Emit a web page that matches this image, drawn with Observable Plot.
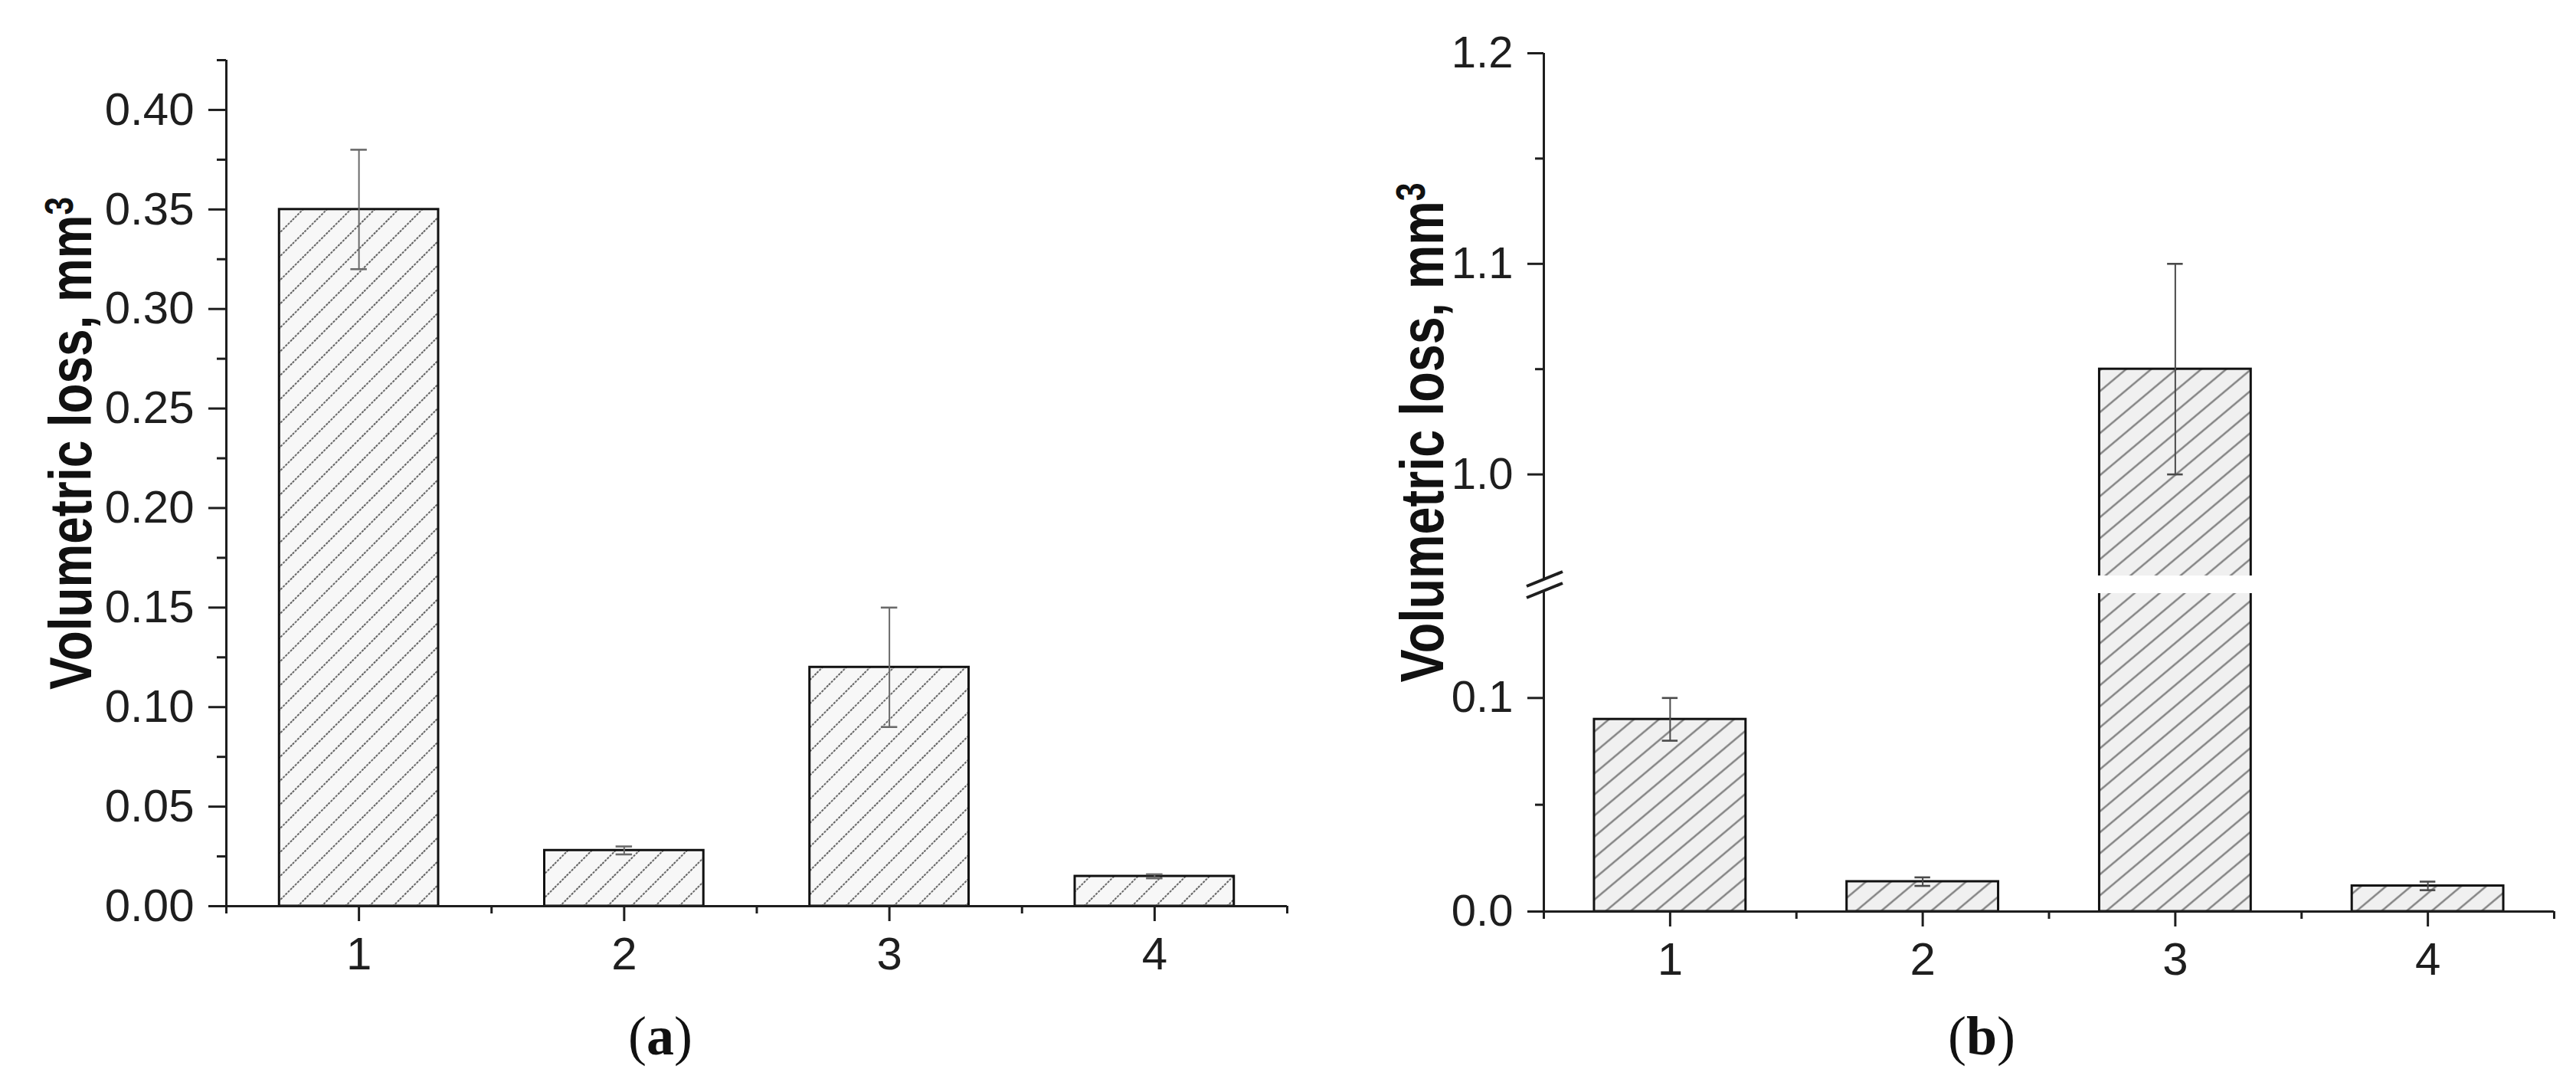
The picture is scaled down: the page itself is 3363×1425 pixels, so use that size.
<!DOCTYPE html>
<html>
<head>
<meta charset="utf-8">
<script src="https://cdn.jsdelivr.net/npm/d3@7"></script>
<script src="https://cdn.jsdelivr.net/npm/@observablehq/plot@0.6"></script>
<style>
  html, body { margin: 0; padding: 0; background: #fff; }
  #fig { position: relative; width: 3363px; height: 1425px; overflow: hidden; background: #fff; }
  #panelA { position: absolute; left: 0; top: 0; width: 1700px; height: 1300px; }
  #panelB { position: absolute; left: 1700px; top: 0; width: 1663px; height: 1300px; }
  .cap { position: absolute; top: 1316px; font-family: "Liberation Serif", "DejaVu Serif", serif;
         font-size: 72px; line-height: 72px; color: #111; transform: translateX(-50%); white-space: nowrap; }
  .cap b { font-weight: bold; }
</style>
</head>
<body>
<svg width="0" height="0" style="position:absolute">
  <defs>
    <pattern id="hatchA" patternUnits="userSpaceOnUse" width="22" height="22" patternTransform="rotate(45)">
      <rect width="22" height="22" fill="#f7f7f7"></rect>
      <line x1="11" y1="0" x2="11" y2="22" stroke="#3c3c3c" stroke-width="1.6" stroke-dasharray="3 1.5"></line>
    </pattern>
    <pattern id="hatchB" patternUnits="userSpaceOnUse" width="21" height="21" patternTransform="rotate(50)">
      <rect width="21" height="21" fill="#f0f0f0"></rect>
      <line x1="10.5" y1="0" x2="10.5" y2="21" stroke="#777" stroke-width="2.2"></line>
    </pattern>
  </defs>
</svg>
<div id="fig">
  <div id="panelA"></div>
  <div id="panelB"></div>
  <div class="cap" style="left:862px">(<b>a</b>)</div>
  <div class="cap" style="left:2587px">(<b>b</b>)</div>
</div>
<script>
// ---------- data ----------
const categories = [1, 2, 3, 4];

const lossA    = [0.35, 0.028, 0.12, 0.015];
const errLowA  = [0.32, 0.026, 0.09, 0.014];
const errHighA = [0.38, 0.030, 0.15, 0.016];

const lossB    = [0.09, 0.014, 1.05, 0.012];
const errLowB  = [0.08, 0.012, 1.00, 0.010];
const errHighB = [0.10, 0.016, 1.10, 0.014];

const xTicks = [1, 2, 3, 4];
const xMinor = [0.5, 1.5, 2.5, 3.5, 4.5];

const yTicksA = [0, 0.05, 0.10, 0.15, 0.20, 0.25, 0.30, 0.35, 0.40];
const yMinorA = [0.025, 0.075, 0.125, 0.175, 0.225, 0.275, 0.325, 0.375, 0.425];
const yTopA = 0.425;

const yTicksB = [0, 0.1, 1.0, 1.1, 1.2];
const yMinorB = [0.05, 1.05, 1.15];
const yBreakB = [0.15, 0.95];
const yTopB = 1.2;

const yLabel = "Volumetric loss, mm³";

// ---------- helpers ----------
const rows = (v, lo, hi) => categories.map((c, i) => ({c, v: v[i], lo: lo[i], hi: hi[i]}));
const rowsA = rows(lossA, errLowA, errHighA);
const rowsB = rows(lossB, errLowB, errHighB);
const halfBar = 0.3, halfCap = 0.031;
const ink = "#1e1e1e";
const tickFont = "'Liberation Sans', Arial, sans-serif";
const labelFont = "'Liberation Sans Narrow', 'Liberation Sans', Arial, sans-serif";

function bars(data, hatch) {
  return Plot.rectY(data, {
    x1: d => d.c - halfBar, x2: d => d.c + halfBar,
    y1: d => 0, y2: d => d.v,
    fill: hatch, stroke: "#111", strokeWidth: 3
  });
}
function errors(data, color) {
  return [
    Plot.ruleX(data, {x: "c", y1: "lo", y2: "hi", stroke: color, strokeWidth: 2}),
    Plot.ruleY(data, {y: "hi", x1: d => d.c - halfCap, x2: d => d.c + halfCap, stroke: color, strokeWidth: 2.6}),
    Plot.ruleY(data, {y: "lo", x1: d => d.c - halfCap, x2: d => d.c + halfCap, stroke: color, strokeWidth: 2.6})
  ];
}
function xAxes() {
  return [
    Plot.axisX({ticks: xTicks, tickSize: 20, tickPadding: 20, tickFormat: d => String(d),
                fontSize: 60, strokeWidth: 3, label: null}),
    Plot.axisX({ticks: xMinor, tickSize: 10, tickFormat: () => "", strokeWidth: 3, label: null})
  ];
}
function fixLabel(svg, len) {
  d3.select(svg).selectAll("text")
    .filter(function () { return this.textContent === yLabel; })
    .each(function () {
      const t = d3.select(this);
      t.text(yLabel.replace("³", ""));
      t.append("tspan").attr("dy", "-0.45em").attr("font-size", "0.66em").text("3");
      t.attr("text-anchor", "middle").attr("textLength", len).attr("lengthAdjust", "spacingAndGlyphs");
    });
}

// ---------- panel (a) ----------
const chartA = Plot.plot({
  width: 1700, height: 1300,
  marginTop: 78, marginBottom: 118, marginLeft: 295, marginRight: 20,
  style: {background: "transparent", color: ink, fontFamily: tickFont, fontSize: "60px", overflow: "visible"},
  x: {type: "linear", domain: [0.5, 4.5]},
  y: {type: "linear", domain: [0, yTopA]},
  marks: [
    bars(rowsA, "url(#hatchA)"),
    ...errors(rowsA, "#6a6a6a"),
    Plot.ruleX([0.5], {stroke: ink, strokeWidth: 3}),
    Plot.ruleY([0], {stroke: ink, strokeWidth: 3}),
    Plot.axisY({ticks: yTicksA, tickSize: 23, tickPadding: 19, tickFormat: d3.format(".2f"),
                fontSize: 60, strokeWidth: 3, label: null}),
    Plot.axisY({ticks: yMinorA, tickSize: 12, tickFormat: () => "", strokeWidth: 3, label: null}),
    ...xAxes(),
    Plot.text([yLabel], {frameAnchor: "left", textAnchor: "middle", dx: -177, dy: -52, rotate: -90,
                         lineAnchor: "bottom", fontSize: 78, fontWeight: "bold", fontFamily: labelFont, fill: "#111"})
  ]
});
fixLabel(chartA, 643);
document.getElementById("panelA").appendChild(chartA);

// ---------- panel (b) : broken y axis ----------
const yRangeB = [1189, 771, 756, 69];
const chartB = Plot.plot({
  width: 1663, height: 1300,
  marginTop: 69, marginBottom: 111, marginLeft: 315, marginRight: 29,
  style: {background: "transparent", color: ink, fontFamily: tickFont, fontSize: "58px", overflow: "visible"},
  x: {type: "linear", domain: [0.5, 4.5]},
  y: {type: "linear", domain: [0, yBreakB[0], yBreakB[1], yTopB], range: yRangeB},
  marks: [
    bars(rowsB, "url(#hatchB)"),
    Plot.rectY(rowsB.filter(d => d.v > yBreakB[1]), {
      x1: d => d.c - halfBar, x2: d => d.c + halfBar,
      y1: d => yBreakB[0], y2: d => yBreakB[1],
      fill: "white", insetTop: -5, insetBottom: -3, insetLeft: -4, insetRight: -4
    }),
    ...errors(rowsB, "#4a4a4a"),
    Plot.ruleX([{a: 0, b: yBreakB[0]}, {a: yBreakB[1], b: yTopB}],
               {x: d => 0.5, y1: "a", y2: "b", stroke: ink, strokeWidth: 3}),
    Plot.ruleY([0], {stroke: ink, strokeWidth: 3}),
    Plot.axisY({ticks: yTicksB, tickSize: 21, tickPadding: 19, tickFormat: d3.format(".1f"),
                fontSize: 58, strokeWidth: 3, label: null}),
    Plot.axisY({ticks: yMinorB, tickSize: 11, tickFormat: () => "", strokeWidth: 3, label: null}),
    ...xAxes(),
    Plot.text([yLabel], {frameAnchor: "left", textAnchor: "middle", dx: -132, dy: -65, rotate: -90,
                         lineAnchor: "bottom", fontSize: 80, fontWeight: "bold", fontFamily: labelFont, fill: "#111"})
  ]
});
fixLabel(chartB, 652);
// axis-break marks drawn at the break values through the plot's own scales
{
  const sx = chartB.scale("x"), sy = chartB.scale("y");
  const ax = sx.apply(0.5);
  const g = d3.select(chartB).append("g").attr("stroke", ink).attr("stroke-width", 4);
  [yBreakB[1], yBreakB[0]].forEach(v => {
    const yy = sy.apply(v);
    g.append("line").attr("x1", ax - 22).attr("y1", yy + 9).attr("x2", ax + 25).attr("y2", yy - 10);
  });
}
document.getElementById("panelB").appendChild(chartB);
</script>
</body>
</html>
